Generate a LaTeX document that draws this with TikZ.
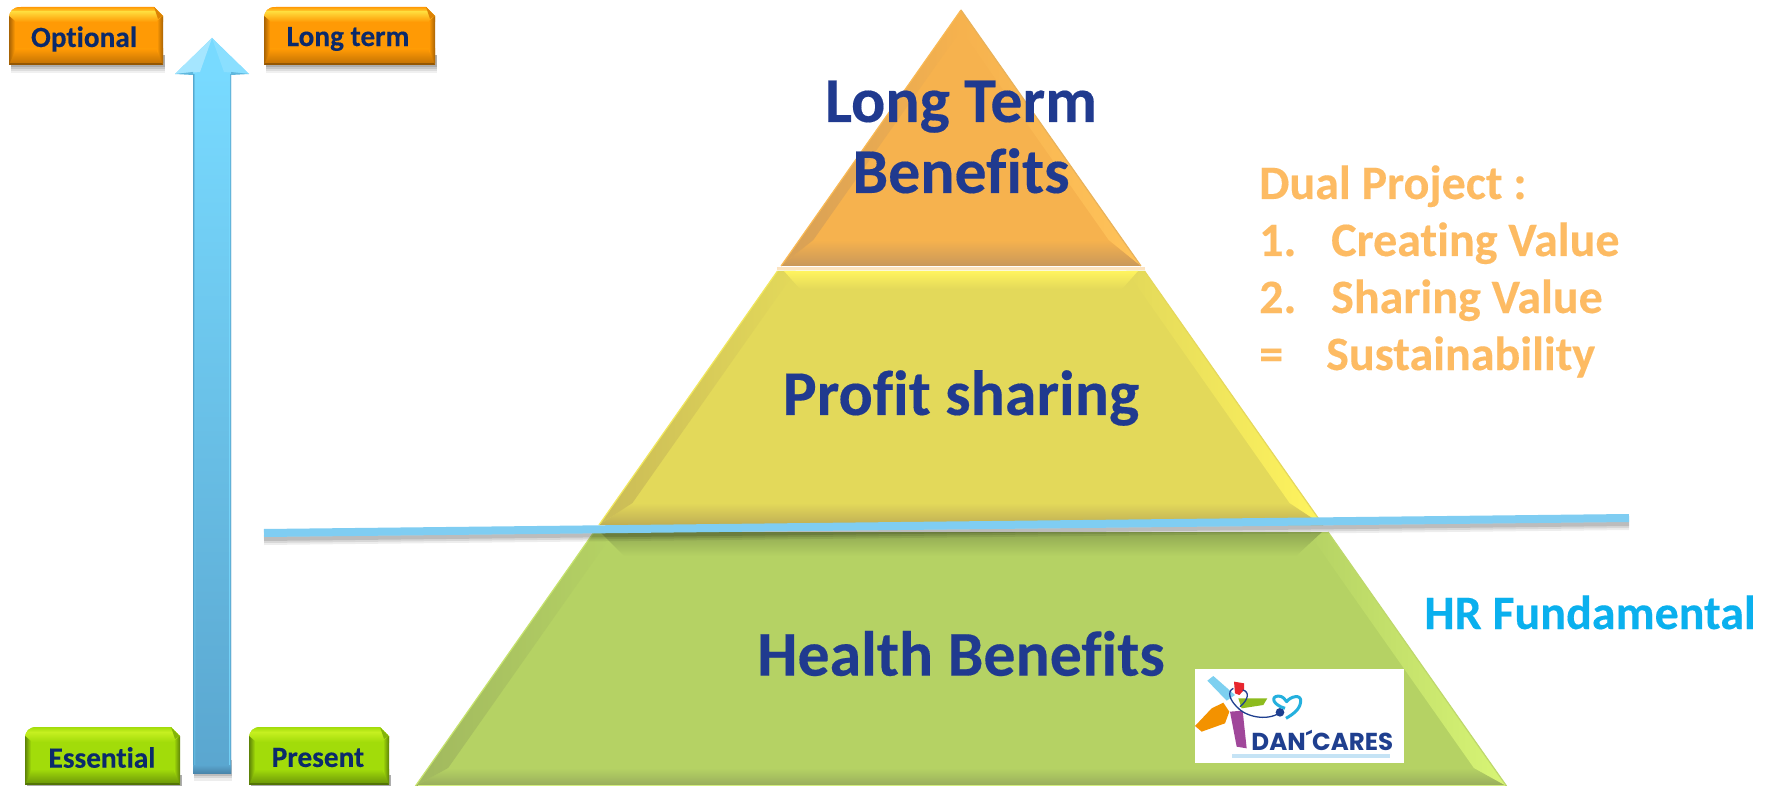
\documentclass[tikz,border=0pt]{standalone}
\usepackage{fontspec}
\setmainfont[Ligatures=NoCommon,BoldFeatures={FakeBold=0.25}]{Carlito}
\newfontfamily\logofont{Poppins}
\definecolor{titleblue}{HTML}{203A8F}
\definecolor{btntext}{HTML}{0B2A6B}
\definecolor{dualorange}{HTML}{FDBB63}
\definecolor{hrblue}{HTML}{0AB0EE}
\definecolor{linecol}{HTML}{7FCDF2}
\newcommand{\hexcol}[1]{\definecolor{#1}{HTML}{#1}}
\hexcol{F6B24E}\hexcol{FFC35A}\hexcol{C9985A}\hexcol{E3D95A}\hexcol{FFF45E}\hexcol{BFAE55}
\hexcol{B5D264}\hexcol{D8F575}\hexcol{98AD5C}\hexcol{8FA752}\hexcol{C8EC6C}\hexcol{D3EE80}
\hexcol{78DAFF}\hexcol{5AA6CF}\hexcol{4E9CC4}\hexcol{4784AB}\hexcol{4A86AB}\hexcol{A5E6FF}\hexcol{8ADFFF}\hexcol{5FB8DE}
\hexcol{FFD93A}\hexcol{FF9A05}\hexcol{C67404}\hexcol{C6F020}\hexcol{A2DC0A}\hexcol{6E9A08}
\hexcol{7DD0F0}\hexcol{E8262E}\hexcol{8DBB1E}\hexcol{F39200}\hexcol{A0479A}\hexcol{1F3F8F}\hexcol{25B0DE}\hexcol{C5E3F5}
\tikzset{
  x=1pt,y=-1pt,
  bigtext/.style={font=\fontsize{63.8}{71}\selectfont\bfseries,text=titleblue,align=center,inner sep=0pt},
  dualtext/.style={font=\fontsize{48}{48}\selectfont\bfseries,text=dualorange,anchor=base west,inner sep=0pt},
  btnlabel/.style={font=\fontsize{29.3}{29.3}\selectfont\bfseries,text=btntext,inner sep=0pt},
}
% x1 y1 x2 y2 light main dark
\newcommand{\btnshape}[7]{%
  \foreach \s/\o in {8/.06,6/.08,4/.10,2/.12}{
    \fill[black,opacity=\o] (#1+2,#4-10) rectangle (#3+2,#4+\s);
  }
  \begin{scope}
    \clip (#1,#2+12) .. controls (#1,#2+4) and (#1+4,#2) .. (#1+12,#2) -- (#3-9,#2) -- (#3,#2+9) -- (#3,#4) -- (#1,#4) -- cycle;
    \fill[#6] (#1,#2) rectangle (#3,#4);
    \shade[top color=#6,bottom color=#5] (#1,#2) rectangle (#3,#2+5);
    \shade[top color=#5,bottom color=#6] (#1,#2+5) rectangle (#3,#2+15);
    \shade[top color=#6,bottom color=#7] (#1,#4-16) rectangle (#3,#4-2);
    \fill[#7!75!black] (#1,#4-2) rectangle (#3,#4);
    \shade[left color=#7!85!black,right color=#6] (#1,#2+9) -- (#1+6,#2+14) -- (#1+6,#4-14) -- (#1,#4) -- cycle;
    \shade[left color=#6,right color=#7!85!black] (#3,#2+9) -- (#3-6,#2+14) -- (#3-6,#4-14) -- (#3,#4) -- cycle;
    \fill[#7!60!#6] (#3-9,#2) -- (#3,#2+9) -- (#3-5,#2+12) -- cycle;
  \end{scope}
}
% ytop ybot topbevel sidebevel bottombevel body light dark
\newcommand{\tier}[8]{%
  \pgfmathsetmacro{\hwt}{.703*(#1-10)}
  \pgfmathsetmacro{\hwb}{.703*(#2-10)}
  \pgfmathsetmacro{\xa}{961-\hwt}
  \pgfmathsetmacro{\xb}{961+\hwt}
  \pgfmathsetmacro{\xc}{961+\hwb}
  \pgfmathsetmacro{\xd}{961-\hwb}
  \pgfmathsetmacro{\ita}{\xa+(#4)-.703*(#3)}
  \pgfmathsetmacro{\itb}{\xb-(#4)+.703*(#3)}
  \pgfmathsetmacro{\itc}{\xc-(#4)-.703*(#5)}
  \pgfmathsetmacro{\itd}{\xd+(#4)+.703*(#5)}
  \fill[#6] (\xa,#1) -- (\xb,#1) -- (\xc,#2) -- (\xd,#2) -- cycle;
  \shade[top color=#6,bottom color=#8] (\xd,#2) -- (\xc,#2) -- (\itc,#2-#5) -- (\itd,#2-#5) -- cycle;
  \shade[left color=#8!70!#6,right color=#6] (\xa,#1) -- (\ita,#1+#3) -- (\itd,#2-#5) -- (\xd,#2) -- cycle;
  \shade[left color=#6,right color=#7] (\xb,#1) -- (\itb,#1+#3) -- (\itc,#2-#5) -- (\xc,#2) -- cycle;
  \draw[#7!50!#6,line width=1.2pt] (\xa,#1) -- (\xd,#2);
  \draw[#8!40!#7,line width=1.2pt] (\xb,#1) -- (\xc,#2);
}
\begin{document}
\begin{tikzpicture}
\useasboundingbox (0,0) rectangle (1767,786);
\fill[white] (0,0) rectangle (1767,786);

% pyramid
\tier{10}{266}{20}{14}{26}{F6B24E}{FFC35A}{C9985A}
\fill[F6B24E!60!white,opacity=.6] (777,267) rectangle (1145,270);
\tier{271}{525}{0}{18}{22}{E3D95A}{FFF45E}{BFAE55}
\shade[top color=FFF45E,bottom color=E3D95A] (784,271) -- (1138,271) -- (1122,289) -- (800,289) -- cycle;
\tier{532}{786}{0}{20}{18}{B5D264}{D8F575}{98AD5C}
\shade[top color=8FA752,middle color=C8EC6C,bottom color=B5D264] (600,532) -- (1322,532) -- (1296,556) -- (624,556) -- cycle;
\fill[D3EE80] (418,784.5) rectangle (1505,786);

% dividing line with its shadow
\coordinate (lineL) at (264,533);
\coordinate (lineR) at (1629,518);
\foreach \s/\o in {8/.07,6/.09,4/.12}{
  \draw[black,opacity=\o,line width=8pt] ([yshift=-\s pt]lineL) -- ([yshift=-\s pt]lineR);
}
\draw[linecol,line width=8pt] (lineL) -- (lineR);

% arrow
\foreach \s/\o in {8/.07,5/.09,3/.12}{
  \fill[black,opacity=\o] (194,760) rectangle (232,773+\s);
}
\shade[top color=78DAFF,bottom color=5AA6CF] (193,74) rectangle (231,773);
\shade[left color=4E9CC4,right color=78DAFF,opacity=.8] (193,74) rectangle (195,773);
\shade[left color=78DAFF,right color=4784AB,opacity=.8] (229,74) rectangle (231,773);
\shade[top color=5AA6CF,bottom color=4A86AB] (193,765) rectangle (231,773);
\fill[78DAFF] (212,38) -- (249,74) -- (175,74) -- cycle;
\fill[A5E6FF] (212,38) -- (175,74) -- (200,72) -- cycle;
\fill[8ADFFF] (212,38) -- (249,74) -- (224,72) -- cycle;
\fill[5FB8DE] (175,74) -- (193,72) -- (193,75) -- cycle;
\fill[5FB8DE] (249,74) -- (231,72) -- (231,75) -- cycle;

% buttons
\btnshape{9}{7}{163}{65}{FFD93A}{FF9A05}{C67404}
\btnshape{264}{7}{435}{65}{FFD93A}{FF9A05}{C67404}
\btnshape{25}{727}{180}{785}{C6F020}{A2DC0A}{6E9A08}
\btnshape{249}{727}{389}{785}{C6F020}{A2DC0A}{6E9A08}
\node[btnlabel] (optional) at (84,39) {Optional};
\node[btnlabel] (longterm) at (348,39) {Long term};
\node[btnlabel] (essential) at (102,757.5) {Essential};
\node[btnlabel] (present) at (318,757.5) {Present};

% pyramid labels
\node[bigtext] (ltb) at (961,137) {Long Term\\Benefits};
\node[bigtext] (profit) at (961,398) {Profit sharing};
\node[bigtext] (health) at (961,653.5) {Health Benefits};

% side text
\node[dualtext] (d0) at (1259,199) {Dual Project :};
\node[dualtext] (d1) at (1259,256) {1.};
\node[dualtext] (d1b) at (1331,256) {Creating Value};
\node[dualtext] (d2) at (1259,313) {2.};
\node[dualtext] (d2b) at (1331,313) {Sharing Value};
\node[dualtext] (d3) at (1259,370) {=};
\node[dualtext] (d3b) at (1326,370) {Sustainability};
\node[font=\fontsize{48}{48}\selectfont\bfseries,text=hrblue,inner sep=0pt,anchor=base] (hr) at (1590,629) {HR Fundamental};

% logo
\fill[white] (1195,669) rectangle (1404,763);
\begin{scope}[shift={(1170,650)},x=.3333pt,y=-.3333pt]
  \fill[7DD0F0] (112,92) -- (130,78) -- (195,135) -- (170,152) -- cycle;
  \fill[E8262E] (192,95) -- (222,100) -- (222,120) -- (208,135) -- (195,130) -- cycle;
  \fill[8DBB1E] (205,145) -- (292,145) -- (280,165) -- (215,175) -- cycle;
  \fill[F39200] (75,228) -- (125,175) -- (160,158) -- (178,185) -- (165,220) -- (95,245) -- cycle;
  \fill[A0479A] (180,185) -- (218,182) -- (230,295) -- (200,290) -- cycle;
  \draw[1F3F8F,line width=1.3pt] (190,115) .. controls (170,125) and (180,150) .. (200,170)
     .. controls (225,200) and (290,215) .. (330,188);
  \draw[1F3F8F,line width=1.3pt] (218,120) .. controls (240,125) and (235,150) .. (210,170);
  \fill[1F3F8F] (330,187) circle (13);
  \draw[25B0DE,line width=3pt,line join=round] (345,175) .. controls (310,165) and (300,140) .. (325,138)
     .. controls (340,138) and (345,150) .. (350,155) .. controls (360,140) and (395,130) .. (392,155)
     .. controls (390,180) and (365,195) .. (348,205);
  \fill[C5E3F5] (185,312) rectangle (660,324);
  \node[font=\logofont\bfseries\fontsize{24.5}{25}\selectfont,text=1F3F8F,inner sep=0pt] (logotext) at (457,270) {DAN´CARES};
\end{scope}
\end{tikzpicture}
\end{document}
